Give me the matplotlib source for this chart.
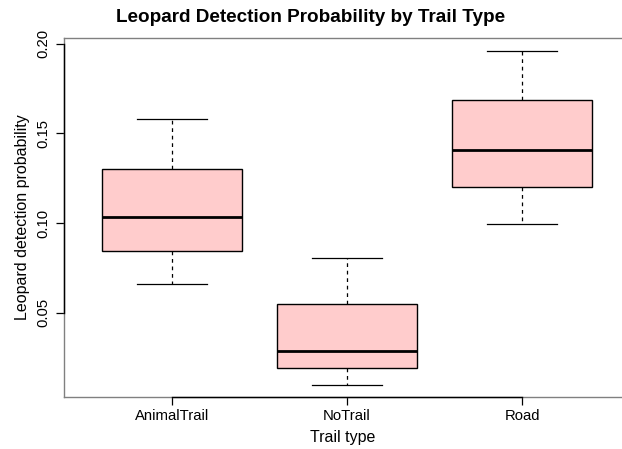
import matplotlib
matplotlib.use('Agg')
import matplotlib.pyplot as plt

# data (box stats per trail type)
categories = ['AnimalTrail', 'NoTrail', 'Road']
whisker_low = [0.0659, 0.0098, 0.0992]
q1 = [0.0845, 0.0193, 0.1198]
median = [0.1031, 0.0286, 0.1407]
q3 = [0.1301, 0.0547, 0.1686]
whisker_high = [0.1578, 0.0807, 0.1958]

plt.rcParams['font.family'] = ['Liberation Sans', 'DejaVu Sans']

fig = plt.figure(figsize=(6.22, 4.49), dpi=100)
W, H = 622, 449
ax = fig.add_axes([64 / W, 1 - 397 / H, (622 - 64) / W, (397 - 38) / H])

stats = []
for i, name in enumerate(categories):
    stats.append(dict(label=name, whislo=whisker_low[i], q1=q1[i], med=median[i],
                      q3=q3[i], whishi=whisker_high[i], fliers=[]))

ax.bxp(stats, positions=[1, 2, 3], widths=0.8, patch_artist=True,
       showfliers=False, capwidths=0.4,
       boxprops=dict(facecolor='#ffcccc', edgecolor='black', linewidth=1.0),
       medianprops=dict(color='black', linewidth=2.0),
       whiskerprops=dict(color='black', linewidth=0.9, linestyle=(0, (3, 3))),
       capprops=dict(color='black', linewidth=0.9))

ax.set_xlim(0.383, 3.571)
ax.set_ylim(0.0029, 0.2032)

for s in ['left', 'bottom', 'top']:
    ax.spines[s].set_color('#808080')
    ax.spines[s].set_linewidth(1.0)
ax.spines['right'].set_visible(False)

yt = [0.05, 0.10, 0.15, 0.20]
ax.set_yticks(yt)
ax.set_yticklabels(['0.05', '0.10', '0.15', '0.20'], rotation=90, va='center')
ax.set_xticks([1, 2, 3])
ax.set_xticklabels(categories)
ax.tick_params(axis='both', length=6, width=0.9, color='black', labelsize=10.7, pad=3)
ax.tick_params(axis='y', pad=3.5)

# R-style axis lines spanning first to last tick
ax.plot([0.383, 0.383], [yt[0], yt[-1]], color='black', lw=1.0, clip_on=False, zorder=5)
ax.plot([1, 3], [0.0029, 0.0029], color='black', lw=1.0, clip_on=False, zorder=5)

ax.set_xlabel('Trail type', fontsize=11.5, labelpad=5)
ax.set_ylabel('Leopard detection probability', fontsize=11.5, labelpad=5)

fig.text(311 / W, 1 - 18 / H, 'Leopard Detection Probability by Trail Type',
         ha='center', va='center', fontsize=13.6, fontweight='bold')

fig.savefig('out.png', dpi=100)
